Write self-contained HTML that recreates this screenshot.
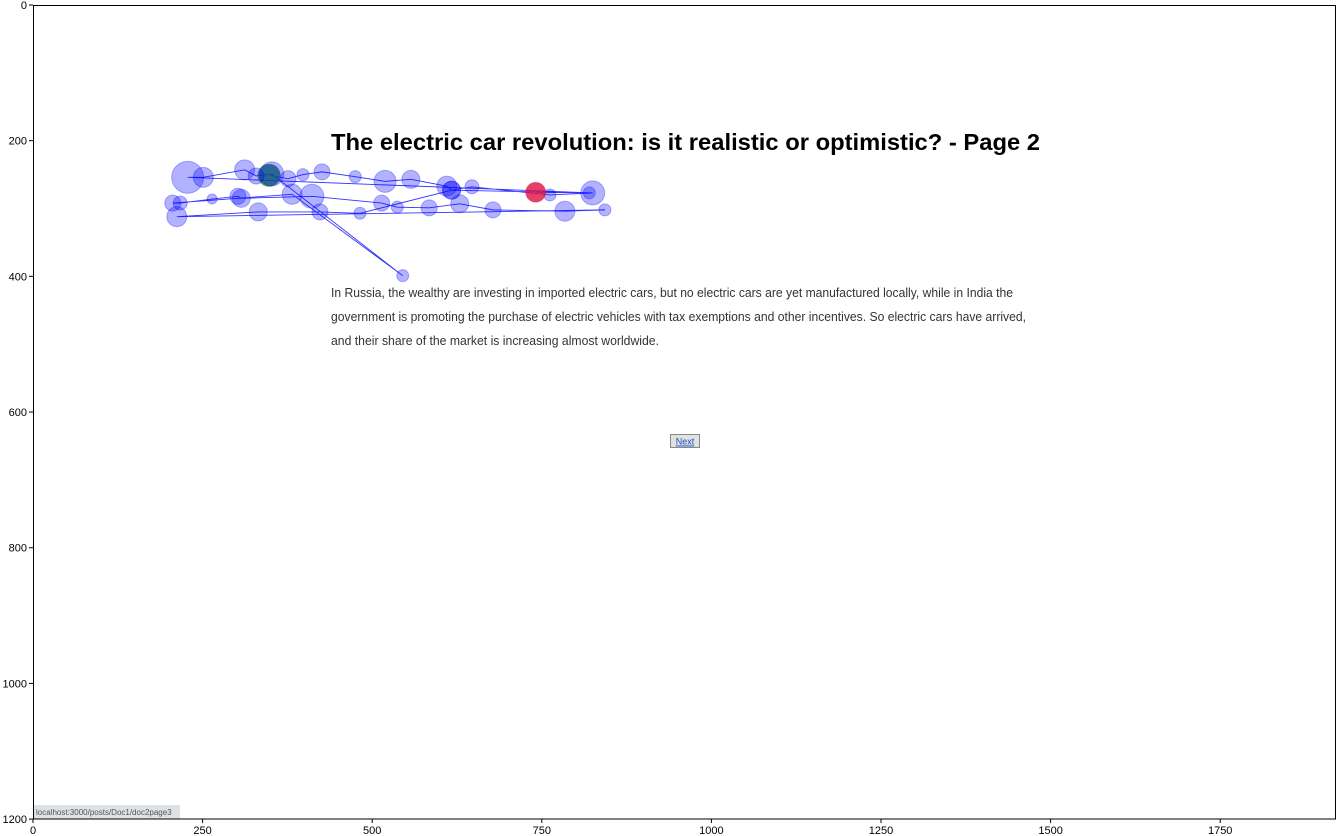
<!DOCTYPE html>
<html><head><meta charset="utf-8"><style>
body{margin:0;width:1337px;height:836px;background:#fff;overflow:hidden;font-family:"Liberation Sans","DejaVu Sans",sans-serif}
svg{position:absolute;left:0;top:0}
</style></head><body>
<svg width="1337" height="836">
<g id="page">
<text x="331" y="150" font-size="23" font-weight="bold" textLength="709" lengthAdjust="spacingAndGlyphs" font-family="'Liberation Sans',sans-serif">The electric car revolution: is it realistic or optimistic? - Page 2</text>
<g font-size="12.5" fill="#333" font-family="'Liberation Sans',sans-serif">
<text x="331" y="297" textLength="682" lengthAdjust="spacingAndGlyphs">In Russia, the wealthy are investing in imported electric cars, but no electric cars are yet manufactured locally, while in India the</text>
<text x="331" y="321" textLength="695" lengthAdjust="spacingAndGlyphs">government is promoting the purchase of electric vehicles with tax exemptions and other incentives. So electric cars have arrived,</text>
<text x="331" y="345" textLength="328" lengthAdjust="spacingAndGlyphs">and their share of the market is increasing almost worldwide.</text>
</g>
<g><rect x="670.5" y="434.5" width="29" height="13" fill="#e1e1e1" stroke="#888"/><text x="685" y="444.5" font-size="9" fill="#1a4fc4" text-anchor="middle" text-decoration="underline">Next</text></g>
<g><rect x="33" y="805" width="147" height="14" fill="#dee1e6"/><text x="36" y="815" font-size="8" fill="#555">localhost:3000/posts/Doc1/doc2page3</text></g>
</g>
<g id="marks"></g>
<rect x="33.5" y="5.5" width="1302" height="813.5" fill="none" stroke="#000"/>
<g id="axes" font-size="11" fill="#000"></g>
</svg>
<script>
const fixX=[348,376,398,426,475,519,557,610,617,647,762,825,228,251,312,329,352,545,382,206,217,264,302,307,411,514,537,584,629,678,784,843,212,332,423,482,617,820,741];
const fixY=[251,256,250,246,253,260,257,267,273,268,280,277,254,254,243,252,249,399,279,292,292,286,282,285,282,292,298,299,293,302,304,302,312,305,305,307,273,277,276];
const fixDur=[280,200,150,200,150,275,225,250,225,175,150,300,400,250,250,200,300,150,250,200,175,125,200,225,300,200,150,200,225,200,250,150,250,225,200,150,225,150,250];
const xTicks=[0,250,500,750,1000,1250,1500,1750];
const yTicks=[0,200,400,600,800,1000,1200];
const X0=33,Y0=5,S=0.6784;
const sx=v=>X0+v*S, sy=v=>Y0+v*S;
const NS="http://www.w3.org/2000/svg";
const m=document.getElementById('marks');
let d="";
for(let i=0;i<fixX.length;i++)d+=(i?"L":"M")+sx(fixX[i])+" "+sy(fixY[i]);
const p=document.createElementNS(NS,'path');
p.setAttribute('d',d);p.setAttribute('fill','none');p.setAttribute('stroke','#0000ff');p.setAttribute('stroke-width','0.9');p.setAttribute('opacity','0.8');


m.appendChild(p);
for(let i=0;i<fixX.length;i++){
 const c=document.createElementNS(NS,'circle');
 c.setAttribute('cx',sx(fixX[i]));c.setAttribute('cy',sy(fixY[i]));c.setAttribute('r',fixDur[i]/25);
 const first=i===0,last=i===fixX.length-1;
 c.setAttribute('fill',first?'#117744':last?'#dd1144':'#0000ff');
 c.setAttribute('fill-opacity',first||last?'0.8':'0.3');
 c.setAttribute('stroke',first?'#117744':last?'#dd1144':'#0000ff');c.setAttribute('stroke-opacity','0.3');
 
 
 m.appendChild(c);
}
const a=document.getElementById('axes');
xTicks.forEach(t=>{
 const l=document.createElementNS(NS,'line');l.setAttribute('x1',sx(t));l.setAttribute('x2',sx(t));l.setAttribute('y1',819);l.setAttribute('y2',823);l.setAttribute('stroke','#000');
 
 
 a.appendChild(l);
 const tx=document.createElementNS(NS,'text');tx.setAttribute('x',sx(t));tx.setAttribute('y',834);tx.setAttribute('text-anchor','middle');tx.textContent=t;
 
 
 a.appendChild(tx);
});
yTicks.forEach(t=>{
 const l=document.createElementNS(NS,'line');l.setAttribute('x1',29);l.setAttribute('x2',33);l.setAttribute('y1',sy(t));l.setAttribute('y2',sy(t));l.setAttribute('stroke','#000');
 
 
 a.appendChild(l);
 const tx=document.createElementNS(NS,'text');tx.setAttribute('x',27);tx.setAttribute('y',sy(t)+4);tx.setAttribute('text-anchor','end');tx.textContent=t;
 
 
 a.appendChild(tx);
});
</script>
</body></html>
